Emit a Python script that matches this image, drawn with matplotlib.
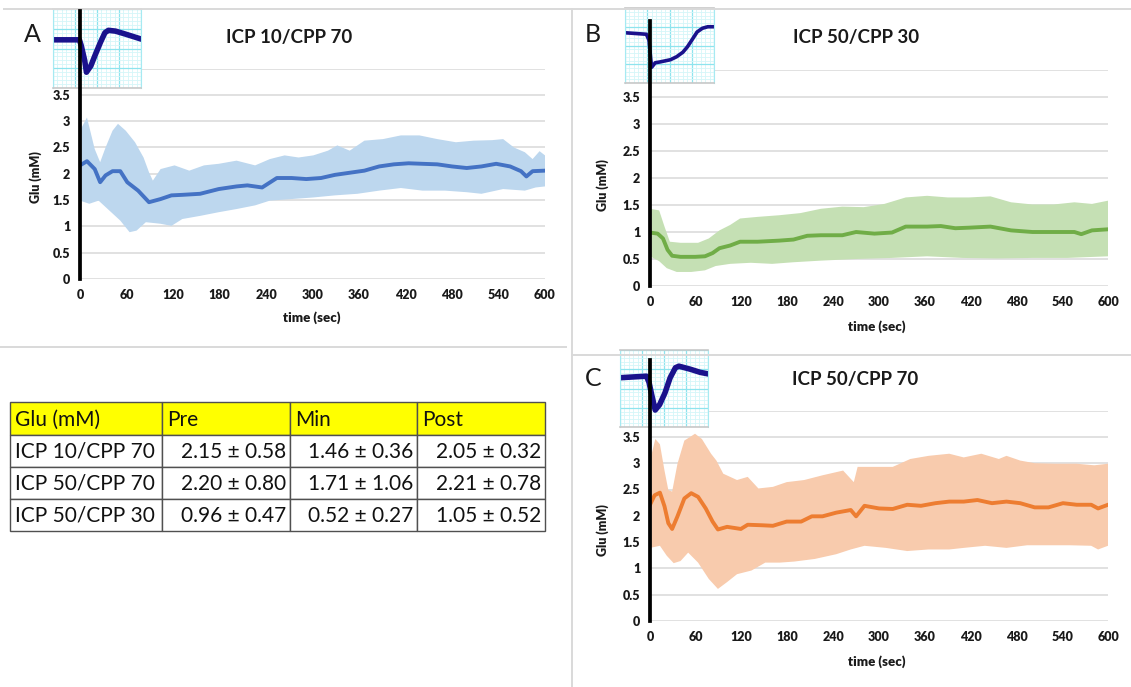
import matplotlib

matplotlib.use("Agg")
import matplotlib.pyplot as plt
import numpy as np
from matplotlib.lines import Line2D
from matplotlib.patches import Rectangle
from matplotlib import transforms

plt.rcParams["font.family"] = ["Lato", "DejaVu Sans"]

W, H = 1131, 687

# ---- panel A: ICP 10/CPP 70 -------------------------------------------------
A_MEAN_T = [0, 9, 19, 26, 33, 42, 52, 61, 75, 89, 104, 118, 132, 155, 179, 202, 216, 235, 254, 273,
            292, 311, 329, 348, 367, 386, 405, 424, 442, 461, 480, 499, 518, 537, 555, 569, 576, 584, 600]
A_MEAN = [2.16, 2.24, 2.09, 1.84, 1.97, 2.05, 2.05, 1.84, 1.68, 1.46, 1.52, 1.59, 1.60, 1.62, 1.71, 1.76,
          1.78, 1.74, 1.92, 1.92, 1.90, 1.92, 1.98, 2.02, 2.06, 2.14, 2.18, 2.20, 2.19, 2.18, 2.14, 2.11,
          2.14, 2.19, 2.14, 2.05, 1.95, 2.05, 2.06]
A_UP_T = [0, 9, 19, 26, 33, 42, 49, 59, 71, 82, 89, 94, 104, 122, 141, 160, 179, 202, 226, 245,
          264, 282, 301, 320, 332, 348, 367, 391, 414, 438, 461, 485, 508, 532, 546, 560, 574, 584, 593, 600]
A_UP = [2.82, 3.07, 2.47, 2.22, 2.50, 2.82, 2.95, 2.82, 2.60, 2.31, 2.03, 1.87, 2.09, 2.16, 2.06, 2.16,
        2.19, 2.25, 2.16, 2.28, 2.35, 2.31, 2.35, 2.44, 2.54, 2.44, 2.63, 2.66, 2.73, 2.73, 2.66, 2.60,
        2.63, 2.64, 2.66, 2.50, 2.41, 2.28, 2.43, 2.35]
A_LO_T = [0, 12, 24, 38, 52, 64, 73, 85, 104, 118, 132, 155, 179, 202, 226, 245, 273, 301, 329, 358,
          386, 414, 442, 471, 499, 518, 546, 574, 588, 600]
A_LO = [1.49, 1.43, 1.49, 1.30, 1.11, 0.89, 0.92, 1.08, 1.05, 1.01, 1.14, 1.20, 1.27, 1.33, 1.40, 1.49,
        1.52, 1.55, 1.59, 1.62, 1.68, 1.73, 1.68, 1.68, 1.65, 1.62, 1.71, 1.68, 1.74, 1.76]

# ---- panel B: ICP 50/CPP 30 -------------------------------------------------
B_MEAN_T = [0, 10, 17, 23, 29, 40, 59, 72, 82, 91, 105, 118, 141, 169, 188, 206, 224, 252, 270, 294,
            317, 335, 363, 381, 400, 418, 446, 473, 501, 529, 556, 565, 579, 600]
B_MEAN = [0.99, 0.97, 0.88, 0.67, 0.56, 0.54, 0.54, 0.55, 0.61, 0.70, 0.75, 0.82, 0.82, 0.84, 0.86, 0.93,
          0.94, 0.94, 1.00, 0.97, 0.99, 1.10, 1.10, 1.11, 1.07, 1.08, 1.10, 1.03, 1.00, 1.00, 1.00, 0.96,
          1.03, 1.05]
B_UP_T = [0, 12, 19, 26, 40, 63, 77, 91, 105, 118, 141, 169, 197, 224, 252, 280, 307, 335, 363, 390,
          418, 446, 473, 501, 529, 556, 579, 600]
B_UP = [1.43, 1.40, 1.10, 0.82, 0.80, 0.80, 0.88, 1.03, 1.13, 1.25, 1.28, 1.31, 1.35, 1.43, 1.47, 1.46,
        1.52, 1.64, 1.67, 1.64, 1.64, 1.66, 1.55, 1.51, 1.51, 1.55, 1.52, 1.58]
B_LO_T = [0, 12, 22, 35, 54, 72, 86, 105, 132, 160, 188, 224, 270, 317, 363, 409, 455, 501, 547, 600]
B_LO = [0.55, 0.46, 0.33, 0.26, 0.26, 0.29, 0.37, 0.41, 0.43, 0.41, 0.44, 0.47, 0.50, 0.52, 0.55, 0.52,
        0.51, 0.52, 0.52, 0.55]

# ---- panel C: ICP 50/CPP 70 -------------------------------------------------
C_MEAN_T = [0, 6, 13, 19, 24, 29, 36, 45, 54, 63, 73, 82, 89, 101, 119, 128, 147, 161, 179, 198,
            212, 226, 244, 263, 270, 281, 300, 318, 337, 355, 374, 392, 411, 429, 448, 467, 485, 504,
            522, 541, 559, 578, 587, 600]
C_MEAN = [2.21, 2.39, 2.44, 2.18, 1.86, 1.75, 1.99, 2.33, 2.43, 2.36, 2.14, 1.89, 1.74, 1.79, 1.75, 1.83,
          1.82, 1.81, 1.89, 1.89, 1.99, 1.99, 2.06, 2.11, 1.99, 2.19, 2.14, 2.13, 2.21, 2.19, 2.24, 2.27,
          2.27, 2.30, 2.24, 2.27, 2.24, 2.16, 2.16, 2.24, 2.21, 2.21, 2.14, 2.21]
C_UP_T = [0, 7, 13, 19, 24, 29, 36, 45, 59, 68, 80, 87, 96, 114, 128, 142, 161, 179, 202, 226,
          253, 267, 272, 295, 318, 341, 365, 392, 411, 434, 457, 467, 485, 504, 531, 559, 582, 600]
C_UP = [3.05, 3.46, 3.36, 2.86, 2.49, 2.46, 2.99, 3.43, 3.56, 3.46, 3.18, 3.05, 2.80, 2.68, 2.74, 2.52,
        2.55, 2.64, 2.68, 2.77, 2.86, 2.64, 2.93, 2.93, 2.93, 3.08, 3.14, 3.18, 3.11, 3.18, 3.08, 3.14,
        3.05, 3.00, 2.99, 2.99, 2.96, 2.99]
C_LO_T = [0, 13, 22, 31, 40, 50, 63, 77, 89, 101, 114, 133, 151, 170, 189, 216, 244, 263, 281, 309,
          337, 365, 392, 411, 439, 467, 494, 522, 550, 578, 587, 600]
C_LO = [1.39, 1.43, 1.24, 1.10, 1.14, 1.30, 1.11, 0.80, 0.61, 0.74, 0.89, 0.96, 1.11, 1.11, 1.13, 1.18,
        1.27, 1.36, 1.43, 1.39, 1.33, 1.36, 1.36, 1.39, 1.43, 1.39, 1.44, 1.44, 1.44, 1.43, 1.36, 1.43]

# ---- inset pressure traces (arbitrary units, 0-100 box) ---------------------
INSET_A_X = [0, 30, 32, 36, 38, 43, 48, 54, 59, 63, 71, 83, 100]
INSET_A_Y = [61, 61, 54, 35, 20, 28, 42, 58, 70, 73, 72, 68, 62]
INSET_B_X = [0, 24, 27, 29, 30, 34, 39, 51, 58, 65, 70, 75, 81, 87, 93, 100]
INSET_B_Y = [67, 65, 57, 31, 21, 27, 28, 31, 35, 41, 48, 57, 68, 73, 75, 75]
INSET_C_X = [0, 30, 33, 36, 40, 45, 51, 57, 63, 67, 80, 91, 100]
INSET_C_Y = [64, 66, 58, 42, 22, 29, 44, 64, 77, 79, 75, 71, 69]

# ---- summary table ----------------------------------------------------------
TABLE_HEADER = ["Glu (mM)", "Pre", "Min", "Post"]
TABLE_ROWS = [
    ["ICP 10/CPP 70", "2.15 ± 0.58", "1.46 ± 0.36", "2.05 ± 0.32"],
    ["ICP 50/CPP 70", "2.20 ± 0.80", "1.71 ± 1.06", "2.21 ± 0.78"],
    ["ICP 50/CPP 30", "0.96 ± 0.47", "0.52 ± 0.27", "1.05 ± 0.52"],
]

X_TICKS = list(range(0, 601, 60))
Y_TICKS = [0, 0.5, 1, 1.5, 2, 2.5, 3, 3.5, 4]


def px_box(left, top, right, bottom):
    return [left / W, 1 - bottom / H, (right - left) / W, (bottom - top) / H]


def fig_text(fig, x, y, s, **kw):
    fig.text(x / W, 1 - y / H, s, **kw)


def fig_hline(fig, x0, x1, y, **kw):
    fig.add_artist(Line2D([x0 / W, x1 / W], [1 - y / H, 1 - y / H], transform=fig.transFigure, **kw))


def fig_vline(fig, x, y0, y1, **kw):
    fig.add_artist(Line2D([x / W, x / W], [1 - y0 / H, 1 - y1 / H], transform=fig.transFigure, **kw))


def draw_panel(fig, p):
    ax = fig.add_axes(px_box(p["left"], p["top"], p["right"], p["bottom"]))
    ax.set_xlim(0, 600)
    ax.set_ylim(0, 4)
    for s in ax.spines.values():
        s.set_visible(False)
    ax.set_xticks(X_TICKS)
    ax.set_yticks(Y_TICKS)
    ax.set_yticklabels(["0", "0.5", "1", "1.5", "2", "2.5", "3", "3.5", ""])
    ax.tick_params(length=0, labelsize=9, pad=7, colors="#1a1a1a")
    for lab in ax.get_xticklabels() + ax.get_yticklabels():
        lab.set_fontweight("heavy")
    ax.grid(True, axis="y", color="#D9D9D9", lw=1.1)
    ax.set_axisbelow(True)

    xs = np.concatenate([p["up_t"], p["lo_t"][::-1]])
    ys = np.concatenate([p["up"], p["lo"][::-1]])
    ax.fill(xs, ys, color=p["band"], lw=0, zorder=2)
    ax.plot(p["mean_t"], p["mean"], color=p["line"], lw=2.8, zorder=3, solid_joinstyle="round")

    # inset with the ICP/ABP trace
    l, t, r, b = p["inset"]
    ins = fig.add_axes(px_box(l, t, r, b))
    ins.set_xlim(0, 100)
    ins.set_ylim(0, 100)
    ins.set_xticks(np.arange(0, 101, 25))
    ins.set_yticks(np.arange(0, 101, 25))
    ins.set_xticks(np.arange(0, 101, 5), minor=True)
    ins.set_yticks(np.arange(0, 101, 5), minor=True)
    ins.tick_params(which="both", length=0, labelbottom=False, labelleft=False)
    ins.grid(True, which="minor", color="#D4F6F9", lw=0.6)
    ins.grid(True, which="major", color="#8EE4EE", lw=0.9)
    for side in ("left", "right"):
        ins.spines[side].set_color("#A6EAF2")
    for side in ("top", "bottom"):
        ins.spines[side].set_color("#C8C8C8")
        ins.spines[side].set_linewidth(1.2)
    ins.plot(p["ix"], p["iy"], color="#1A128C", lw=p["ilw"], solid_joinstyle="round")

    # thick black marker line at t = 0, drawn over the inset
    tr = transforms.blended_transform_factory(ax.transData, fig.transFigure)
    fig.add_artist(Line2D([0, 0], [1 - p["bottom"] / H, 1 - p["vtop"] / H], transform=tr,
                          color="black", lw=2.7, zorder=5))

    fig_text(fig, p["letter_xy"][0], p["letter_xy"][1], p["letter"], fontsize=18,
             ha="center", va="center", color="#1a1a1a")
    fig_text(fig, p["title_xy"][0], p["title_xy"][1], p["title"], fontsize=13.5,
             fontweight="bold", ha="center", va="center", color="#1a1a1a")
    fig_text(fig, p["ylab_xy"][0], p["ylab_xy"][1], "Glu (mM)", fontsize=9, fontweight="heavy",
             rotation=90, ha="center", va="center", color="#1a1a1a")
    fig_text(fig, p["xlab_xy"][0], p["xlab_xy"][1], "time (sec)", fontsize=9.5, fontweight="heavy",
             ha="center", va="center", color="#1a1a1a")
    return ax


def draw_table(fig):
    col_edges = [10, 162, 290, 417, 545]
    row_edges = [402, 435, 467, 499, 531]
    tax = fig.add_axes([0, 0, 1, 1])
    tax.set_xlim(0, W)
    tax.set_ylim(H, 0)
    tax.axis("off")
    rows = [TABLE_HEADER] + TABLE_ROWS
    for i, row in enumerate(rows):
        y0, y1 = row_edges[i], row_edges[i + 1]
        for j, txt in enumerate(row):
            x0, x1 = col_edges[j], col_edges[j + 1]
            face = "#FFFF00" if i == 0 else "white"
            tax.add_patch(Rectangle((x0, y0), x1 - x0, y1 - y0, facecolor=face,
                                    edgecolor="#505050", lw=1.0))
            if i == 0 or j == 0:
                tax.text(x0 + 5, (y0 + y1) / 2 + 1, txt, ha="left", va="center", fontsize=15,
                         color="#111111")
            else:
                tax.text(x1 - 4, (y0 + y1) / 2 + 1, txt, ha="right", va="center", fontsize=15,
                         color="#111111")


def main():
    fig = plt.figure(figsize=(W / 100, H / 100), dpi=100)

    # light panel frames
    frame = dict(color="#D9D9D9", lw=1.4)
    fig_hline(fig, 4, 1131, 9, **frame)
    fig_hline(fig, 0, 566, 347, **frame)
    fig_hline(fig, 572, 1131, 355, **frame)
    fig_vline(fig, 572, 9, 687, **frame)

    panels = [
        dict(left=80, right=545, top=68.6, bottom=279, mean_t=A_MEAN_T, mean=A_MEAN,
             up_t=A_UP_T, up=A_UP, lo_t=A_LO_T, lo=A_LO, line="#4472C4", band="#BDD7EE",
             inset=(53, 9, 141, 88), ix=INSET_A_X, iy=INSET_A_Y, ilw=4.0, vtop=11,
             letter="A", letter_xy=(32, 35), title="ICP 10/CPP 70", title_xy=(289, 37),
             ylab_xy=(36, 177), xlab_xy=(312, 318)),
        dict(left=650, right=1108, top=70, bottom=286, mean_t=B_MEAN_T, mean=B_MEAN,
             up_t=B_UP_T, up=B_UP, lo_t=B_LO_T, lo=B_LO, line="#70AD47", band="#C5E0B4",
             inset=(625, 8, 714, 83), ix=INSET_B_X, iy=INSET_B_Y, ilw=2.6, vtop=21,
             letter="B", letter_xy=(593, 34), title="ICP 50/CPP 30", title_xy=(856, 37),
             ylab_xy=(603, 185), xlab_xy=(877, 327)),
        dict(left=650, right=1108, top=410.6, bottom=621, mean_t=C_MEAN_T, mean=C_MEAN,
             up_t=C_UP_T, up=C_UP, lo_t=C_LO_T, lo=C_LO, line="#ED7D31", band="#F8CBAD",
             inset=(620, 350, 708, 427), ix=INSET_C_X, iy=INSET_C_Y, ilw=4.0, vtop=360,
             letter="C", letter_xy=(593, 379), title="ICP 50/CPP 70", title_xy=(855, 379),
             ylab_xy=(603, 530), xlab_xy=(877, 662)),
    ]
    for p in panels:
        for k in ("mean_t", "mean", "up_t", "up", "lo_t", "lo"):
            p[k] = np.asarray(p[k], dtype=float)
        draw_panel(fig, p)

    draw_table(fig)
    fig.savefig("out.png", dpi=100)
    plt.close(fig)


if __name__ == "__main__":
    main()
